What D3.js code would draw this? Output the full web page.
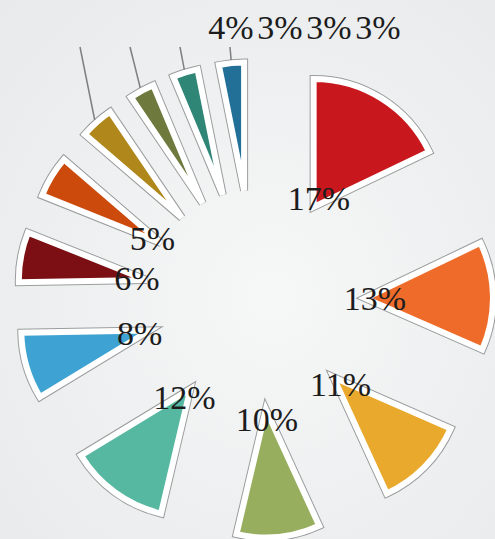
<!DOCTYPE html>
<html>
<head>
<meta charset="utf-8">
<script src="https://cdn.jsdelivr.net/npm/d3@7"></script>
<style>
  html, body { margin: 0; padding: 0; background: #eceeef; }
  svg { display: block; }
</style>
</head>
<body>
<div id="chart"></div>
<script>
// slice values (percent labels as read), clockwise from 12 o'clock
const shares = [17, 13, 11, 10, 12, 8, 6, 5, 4, 3, 3, 3];
const colors = ["#c8181e", "#ef6b2a", "#e9a92c", "#97ae5e", "#56b8a0", "#3ea3d2",
                "#7b0f13", "#cc4a0b", "#b0871a", "#6e7a3d", "#2f8576", "#226f98"];
// the last four slices get their labels in a row at the top
const smallStart = 8;

const width = 495, height = 539;
const cx = 255, cy = 300;
const explode = 110, radius = 128, labelR = 120;

const svg = d3.select("#chart").append("svg")
    .attr("width", width)
    .attr("height", height);

const defs = svg.append("defs");
const bg = defs.append("radialGradient").attr("id", "bg")
    .attr("cx", "55%").attr("cy", "55%").attr("r", "75%");
bg.append("stop").attr("offset", "0%").attr("stop-color", "#f6f7f7");
bg.append("stop").attr("offset", "100%").attr("stop-color", "#e8eaeb");
svg.append("rect").attr("width", width).attr("height", height).attr("fill", "url(#bg)");

const pie = d3.pie().sort(null).value(d => d);
const arcs = pie(shares);
const arc = d3.arc().innerRadius(0).outerRadius(radius);

let mid = d => (d.startAngle + d.endAngle) / 2;
let offset = (d, r) => [Math.sin(mid(d)) * r, -Math.cos(mid(d)) * r];

const g = svg.append("g").attr("transform", `translate(${cx},${cy})`);

const slices = g.selectAll("g.slice")
    .data(arcs)
    .enter().append("g")
      .attr("class", "slice")
      .attr("transform", d => `translate(${offset(d, explode)})`);

// thin grey outline, then white border + fill
slices.append("path")
    .attr("d", arc)
    .attr("fill", "none")
    .attr("stroke", "#9a9c9d")
    .attr("stroke-width", 8)
    .attr("stroke-linejoin", "miter");

slices.append("path")
    .attr("d", arc)
    .attr("fill", (d, i) => colors[i])
    .attr("stroke", "#ffffff")
    .attr("stroke-width", 6)
    .attr("stroke-linejoin", "miter");

// labels for the big slices sit near each wedge's tip
g.selectAll("text.lab")
    .data(arcs.filter((d, i) => i < smallStart))
    .enter().append("text")
      .attr("class", "lab")
      .attr("x", d => offset(d, labelR)[0])
      .attr("y", d => offset(d, labelR)[1])
      .attr("dy", "0.35em")
      .attr("text-anchor", "middle")
      .style("font-family", "'Liberation Serif', 'Times New Roman', serif")
      .style("font-size", "34px")
      .style("fill", "#1c1c1c")
      .text(d => d.data + "%");

// small slices: leader lines up to a row of labels
const small = arcs.filter((d, i) => i >= smallStart);
const leaderTop = 47, slotX0 = 80, slotStep = 50;
const rowX0 = 231, rowStep = 49, rowY = 39;

svg.append("g").selectAll("line")
    .data(small)
    .enter().append("line")
      .attr("x1", d => cx + offset(d, explode)[0] + offset(d, radius + 3)[0])
      .attr("y1", d => cy + offset(d, explode)[1] + offset(d, radius + 3)[1])
      .attr("x2", (d, i) => slotX0 + i * slotStep)
      .attr("y2", leaderTop)
      .attr("stroke", "#7d7f80")
      .attr("stroke-width", 1.5);

svg.append("g").selectAll("text")
    .data(small)
    .enter().append("text")
      .attr("x", (d, i) => rowX0 + i * rowStep)
      .attr("y", rowY)
      .attr("text-anchor", "middle")
      .style("font-family", "'Liberation Serif', 'Times New Roman', serif")
      .style("font-size", "34px")
      .style("fill", "#1c1c1c")
      .text(d => d.data + "%");
</script>
</body>
</html>
